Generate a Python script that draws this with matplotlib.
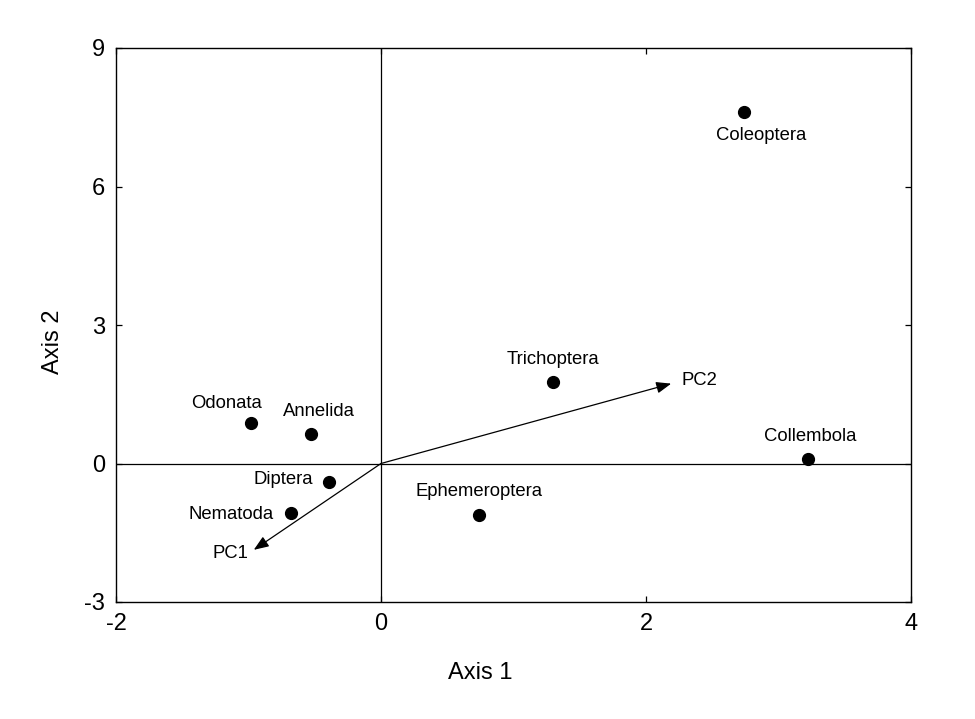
import matplotlib
matplotlib.use("Agg")
import matplotlib.pyplot as plt

plt.rcParams["font.family"] = ["Liberation Sans", "DejaVu Sans"]
plt.rcParams["axes.unicode_minus"] = False

# taxa scores
taxa = ["Coleoptera", "Trichoptera", "Collembola", "Odonata", "Annelida",
        "Diptera", "Nematoda", "Ephemeroptera"]
axis1 = [2.74, 1.30, 3.22, -0.98, -0.53, -0.39, -0.68, 0.74]
axis2 = [7.62, 1.77, 0.10, 0.88, 0.64, -0.40, -1.07, -1.11]

# label offsets in points (dx, dy)
label_off = {
    "Coleoptera": (12, -17),
    "Trichoptera": (0, 16),
    "Collembola": (2, 16),
    "Odonata": (-18, 14),
    "Annelida": (6, 16),
    "Diptera": (-33, 2),
    "Nematoda": (-43, -1),
    "Ephemeroptera": (0, 17),
}

# biplot vectors
vec_names = ["PC1", "PC2"]
vec_x = [-0.96, 2.19]
vec_y = [-1.87, 1.73]
vec_off = {"PC1": (-17, -3), "PC2": (20, 2)}

xticks = [-2, 0, 2, 4]
yticks = [-3, 0, 3, 6, 9]

fig = plt.figure(figsize=(9.75, 7.19), dpi=100)
ax = fig.add_axes([116 / 975, 1 - 602 / 719, 795 / 975, 554 / 719])
ax.set_xlim(-2, 4)
ax.set_ylim(-3, 9)

ax.axhline(0, color="black", lw=0.9, zorder=1)
ax.axvline(0, color="black", lw=0.9, zorder=1)

ax.plot(axis1, axis2, "o", color="black", ms=8.5, zorder=3)
for name, x, y in zip(taxa, axis1, axis2):
    dx, dy = label_off[name]
    ax.annotate(name, (x, y), xytext=(dx, dy), textcoords="offset points",
                ha="center", va="center", fontsize=13.3)

for name, x, y in zip(vec_names, vec_x, vec_y):
    ax.annotate("", xy=(x, y), xytext=(0, 0),
                arrowprops=dict(arrowstyle="-|>,head_length=0.9,head_width=0.35",
                                color="black", lw=0.9, shrinkA=0, shrinkB=0))
    dx, dy = vec_off[name]
    ax.annotate(name, (x, y), xytext=(dx, dy), textcoords="offset points",
                ha="center", va="center", fontsize=13.3)

ax.set_xticks(xticks)
ax.set_yticks(yticks)
ax.tick_params(direction="in", length=4, width=0.9, top=True, right=True,
               labelsize=17, pad=8)
for s in ax.spines.values():
    s.set_linewidth(1.0)

# axis titles placed where the original has them
fig.text(480 / 975, 1 - 673 / 719, "Axis 1", fontsize=17,
         ha="center", va="center")
fig.text(53 / 975, 1 - 342 / 719, "Axis 2", fontsize=17,
         ha="center", va="center", rotation=90)

fig.savefig("out.png", dpi=100)
